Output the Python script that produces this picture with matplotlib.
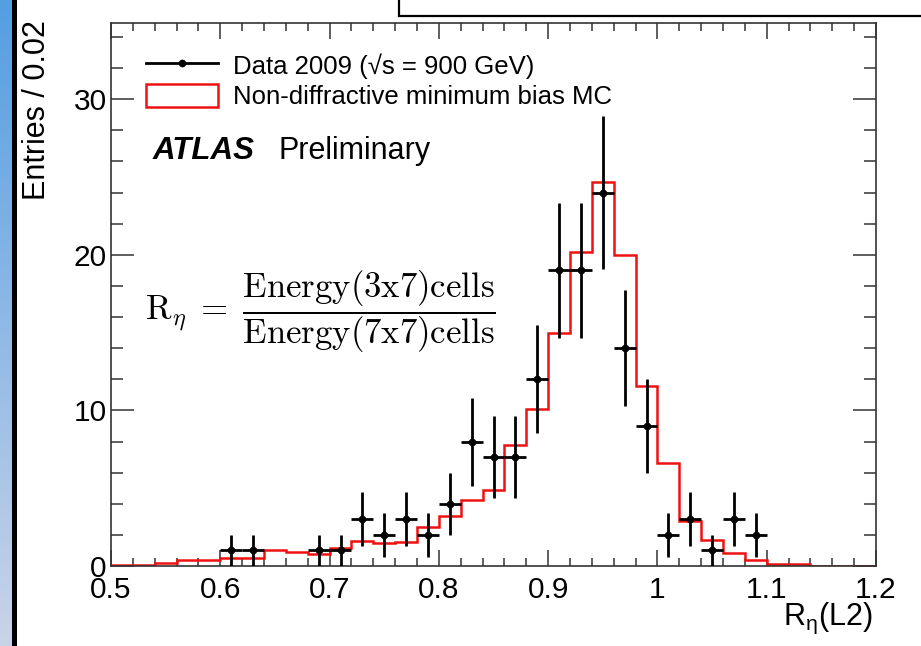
import numpy as np
import matplotlib.pyplot as plt
from matplotlib.lines import Line2D
from matplotlib.patches import Patch, Rectangle
from matplotlib.ticker import FixedLocator, FixedFormatter, MultipleLocator

plt.rcParams['font.family'] = ['Liberation Sans', 'DejaVu Sans']

# R_eta binning, 0.02 wide
edges = np.round(np.arange(0.5, 1.2001, 0.02), 2)
centers = 0.5 * (edges[:-1] + edges[1:])

# data 2009, entries per bin
data_counts = [0, 0, 0, 0, 0, 1, 1, 0, 0, 1, 1, 3, 2, 3, 2, 4, 8, 7, 7, 12,
               19, 19, 24, 14, 9, 2, 3, 1, 3, 2, 0, 0, 0, 0, 0]

# non-diffractive minimum bias MC, normalised
mc_counts = [0.05, 0.05, 0.2, 0.4, 0.4, 0.5, 0.5, 1.0, 0.9, 0.75, 1.15, 1.6,
             1.45, 1.55, 2.5, 3.2, 4.25, 4.9, 7.8, 10.1, 15.0, 20.2, 24.7,
             20.0, 11.6, 6.6, 2.9, 1.7, 0.85, 0.4, 0.1, 0.15, 0.03, 0.03, 0.03]

xticks = [0.5, 0.6, 0.7, 0.8, 0.9, 1.0, 1.1, 1.2]
xtick_labels = ['0.5', '0.6', '0.7', '0.8', '0.9', '1', '1.1', '1.2']
yticks = [0, 10, 20, 30]

W, H = 921, 646
fig = plt.figure(figsize=(W / 100, H / 100), dpi=100)

# slide background strip on the left
strip = fig.add_axes([0, 0, 12 / W, 1])
grad = np.linspace(0, 1, 256).reshape(-1, 1)
top_c = np.array([0.33, 0.62, 0.89])
bot_c = np.array([0.79, 0.83, 0.91])
img = top_c[None, None, :] * (1 - grad[..., None]) + bot_c[None, None, :] * grad[..., None]
strip.imshow(img, aspect='auto', extent=[0, 1, 0, 1], origin='upper')
strip.axis('off')
fig.patches.append(Rectangle((12 / W, 0), 5 / W, 1, transform=fig.transFigure,
                             facecolor='black', edgecolor='none'))
# title box at the top
fig.patches.append(Rectangle((399 / W, 1 - 16 / H), 0.6, 0.1, transform=fig.transFigure,
                             facecolor='white', edgecolor='black', lw=1.6))

ax = fig.add_axes([111 / W, 1 - 566 / H, 765 / W, 543 / H])
counts = np.array(data_counts, dtype=float)
mask = counts > 0

ax.stairs(mc_counts, edges, color='#ee1111', lw=1.8, zorder=2)
ax.errorbar(centers[mask], counts[mask], xerr=0.01, yerr=np.sqrt(counts[mask]),
            fmt='o', ms=4.5, color='black', elinewidth=2.0, capsize=0, zorder=3)

ax.set_xlim(0.5, 1.2)
ax.set_ylim(0, 34.9)
ax.xaxis.set_major_locator(FixedLocator(xticks))
ax.xaxis.set_major_formatter(FixedFormatter(xtick_labels))
ax.xaxis.set_minor_locator(MultipleLocator(0.02))
ax.yaxis.set_major_locator(FixedLocator(yticks))
ax.yaxis.set_minor_locator(MultipleLocator(2))

ax.tick_params(which='both', direction='in', top=True, right=True, color='#333333', width=1.1)
ax.tick_params(axis='x', which='major', length=11.5, labelsize=21.5, pad=7)
ax.tick_params(axis='x', which='minor', length=5.8)
ax.tick_params(axis='y', which='major', length=16.5, labelsize=21.5, pad=3)
ax.tick_params(axis='y', which='minor', length=8.6)
for s in ax.spines.values():
    s.set_color('#333333')
    s.set_linewidth(1.2)

handles = [Line2D([], [], color='black', marker='o', ms=4.5, lw=2.0),
           Patch(facecolor='white', edgecolor='#ee1111', lw=1.8)]
labels = ['Data 2009 (√s = 900 GeV)', 'Non-diffractive minimum bias MC']
ax.legend(handles, labels, loc='upper left', frameon=False, fontsize=18.5,
          bbox_to_anchor=(146 / W, 1 - 53 / H), bbox_transform=fig.transFigure,
          borderpad=0, borderaxespad=0, handlelength=2.8, handleheight=1.0,
          handletextpad=0.6, labelspacing=0.2)

fig.text(153 / W, 1 - 159 / H, 'ATLAS', fontsize=22.5, fontweight='bold',
         fontstyle='italic', va='baseline')
fig.text(278 / W, 1 - 159 / H, 'Preliminary', fontsize=22, va='baseline')

fig.text(145 / W, 1 - 312 / H,
         r'$\mathrm{R}_\eta\;=\;\dfrac{\mathrm{Energy(3x7)cells}}{\mathrm{Energy(7x7)cells}}$',
         fontsize=25, math_fontfamily='cm', va='center', ha='left')

fig.text(37 / W, 1 - 20 / H, 'Entries / 0.02', fontsize=22, rotation=90,
         va='top', ha='center')
fig.text(873 / W, 1 - 625 / H, r'$\mathregular{R_{η}(L2)}$', fontsize=22, ha='right',
         va='baseline')

fig.savefig('out.png', dpi=100)
